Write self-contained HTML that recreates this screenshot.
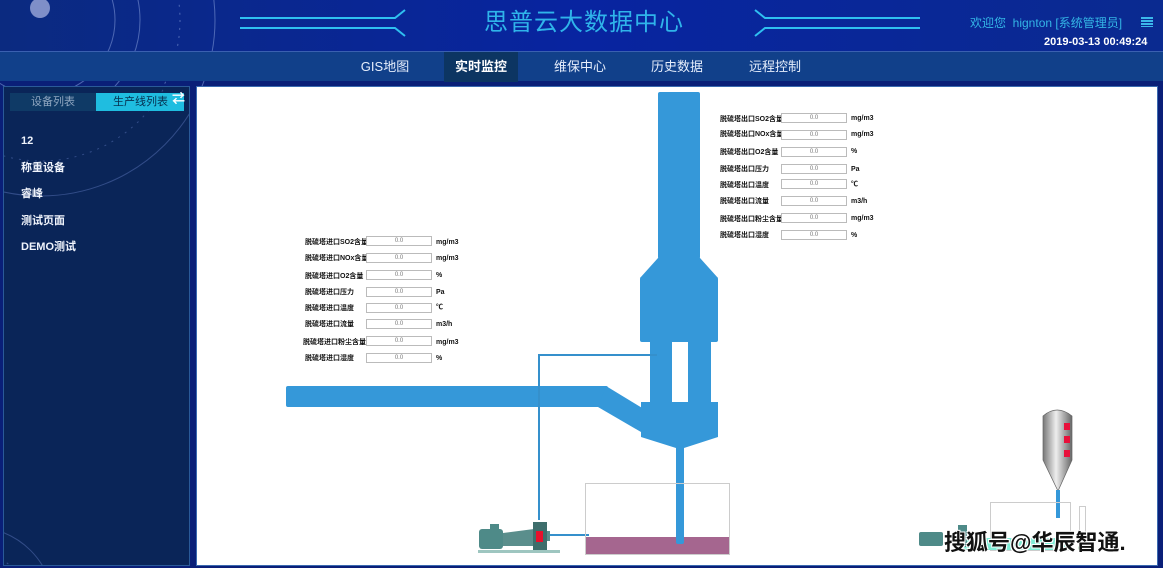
<!DOCTYPE html>
<html style="width:1163px;height:568px;overflow:hidden"><head><meta charset="utf-8"><style>
*{margin:0;padding:0;box-sizing:border-box}
body{width:1163px;height:568px;overflow:hidden;background:#0a1f78;font-family:"Liberation Sans","Noto Sans CJK SC",sans-serif;position:relative}
.abs{position:absolute;display:block}
.nav span{position:absolute;top:0;height:30px;line-height:30px;color:#e6eefc;font-size:13px;text-align:center}
.f{position:absolute;font-size:7px;line-height:9px;color:#111;white-space:nowrap;font-weight:bold}
.in{position:absolute;width:66px;height:10px;border:1px solid #bbb;font-size:6px;color:#777;text-align:center;line-height:8px;background:#fff}
</style></head><body>
<div class="abs" style="left:0;top:0;width:1163px;height:52px;background:linear-gradient(90deg,#0b2a80,#0824a0 50%,#0a2a90)"></div>
<svg class="abs" style="left:0;top:0" width="1163" height="86">
<g stroke="#6a84c8" fill="none" opacity=".7">
<circle cx="40" cy="20" r="75"/><circle cx="40" cy="20" r="100"/><circle cx="40" cy="20" r="140" stroke-dasharray="2 6"/><circle cx="40" cy="20" r="175"/>
</g>
<circle cx="40" cy="8" r="10" fill="#7f8fc8"/>
<g stroke="#2fc0f0" stroke-width="2" fill="none">
<path d="M240 18 H395 L405 10 M240 28 H395 L405 36"/>
<path d="M920 18 H765 L755 10 M920 28 H765 L755 36"/>
</g>
</svg>
<div class="abs" style="left:484px;top:8px;font-size:24px;line-height:30px;color:#2fb4ea;letter-spacing:1px">思普云大数据中心</div>
<div class="abs" style="left:970px;top:16px;font-size:12px;line-height:15px;color:#34b6e6">欢迎您&nbsp; hignton [系统管理员]</div>
<div class="abs" style="left:1141px;top:17px;width:12px;height:10px;background:repeating-linear-gradient(#3bb7ea 0 2px,transparent 2px 3px)"></div>
<div class="abs" style="left:1044px;top:36px;font-size:11px;line-height:13px;font-weight:bold;color:#fff">2019-03-13 00:49:24</div>
<div class="abs nav" style="left:0;top:51px;width:1163px;height:30px;background:#11408a;border-top:1px solid #3a60b0">
<span style="left:352px;width:66px">GIS地图</span>
<span style="left:444px;width:74px;background:#0c3562;font-weight:bold;color:#fff">实时监控</span>
<span style="left:545px;width:70px">维保中心</span>
<span style="left:642px;width:70px">历史数据</span>
<span style="left:740px;width:70px">远程控制</span>
</div>
<div class="abs" style="left:3px;top:86px;width:187px;height:480px;background:#0a2558;border:1px solid #2a5a98;overflow:hidden">
<svg style="position:absolute;left:0;top:0" width="185" height="478"><g stroke="#5a74b8" fill="none" opacity=".5"><circle cx="37" cy="-66" r="140" stroke-dasharray="2 6"/><circle cx="37" cy="-66" r="175"/><circle cx="-30" cy="520" r="80"/><circle cx="-30" cy="520" r="55" stroke-dasharray="2 5"/></g></svg>
</div>
<div class="abs" style="left:10px;top:93px;width:86px;height:18px;background:#0f3a66;color:#8fa6c0;font-size:11px;text-align:center;line-height:18px">设备列表</div>
<div class="abs" style="left:96px;top:93px;width:88px;height:18px;background:#1fbde0;color:#063050;font-size:11px;line-height:18px;padding-left:17px">生产线列表</div>
<div class="abs" style="left:172px;top:91px;color:#fff;font-size:13px;line-height:15px;font-weight:bold">⇄</div>
<div class="abs" style="left:21px;top:128px;color:#f0f4fc;font-size:11px;line-height:26.5px;font-weight:bold">12<br>称重设备<br>睿峰<br>测试页面<br>DEMO测试</div>
<div class="abs" style="left:196px;top:86px;width:962px;height:480px;background:#fff;border:1px solid #3a6ab0"></div>
<svg class="abs" style="left:0;top:0" width="1163" height="568">
<g fill="#3598d9">
<rect x="658" y="92" width="42" height="167" rx="2"/>
<polygon points="658,258 700,258 718,278 640,278"/>
<rect x="640" y="277" width="78" height="65" rx="2"/>
<rect x="650" y="342" width="22" height="62"/>
<rect x="688" y="342" width="23" height="62"/>
<rect x="286" y="386" width="322" height="21" rx="2"/>
<polygon points="606,386 652,414 641,432 598,407"/>
<polygon points="641,402 718,402 718,437 684,448 676,448 641,437"/>
<rect x="676" y="446" width="8" height="98" rx="2"/>
</g>
<path d="M657 355 H539 V520" stroke="#3590cc" stroke-width="2" fill="none"/>
<path d="M545 535 H589" stroke="#3590cc" stroke-width="2"/>
<rect x="585.5" y="483.5" width="144" height="71" fill="none" stroke="#ccc"/>
<rect x="586" y="537" width="143" height="17" fill="#a5668f"/>
<rect x="676" y="520" width="8" height="24" rx="2" fill="#3598d9"/>
<rect x="478" y="550" width="82" height="3" fill="#9ec6c0"/>
<rect x="479" y="529" width="24" height="20" rx="3" fill="#4e8a88"/>
<rect x="490" y="524" width="9" height="6" fill="#4e8a88"/>
<polygon points="503,533 534,529 534,546 503,546" fill="#5a8e8c"/>
<rect x="533" y="522" width="14" height="28" fill="#3e6e6c"/>
<rect x="536" y="531" width="7" height="11" fill="#e8102c"/>
<rect x="547" y="531" width="3" height="10" fill="#5a8e8c"/>
<defs><linearGradient id="sg" x1="0" x2="1"><stop offset="0" stop-color="#777"/><stop offset=".45" stop-color="#eee"/><stop offset="1" stop-color="#666"/></linearGradient></defs>
<path d="M1043 416 Q1057 404 1072 416 V460 L1058 491 L1043 460 Z" fill="url(#sg)" stroke="#666" stroke-width=".7"/>
<rect x="1064" y="423" width="6" height="7" fill="#e8103a"/><rect x="1064" y="436" width="6" height="7" fill="#e8103a"/><rect x="1064" y="450" width="6" height="7" fill="#e8103a"/>
<rect x="1056" y="490" width="4" height="28" fill="#3598d9"/>
<rect x="990.5" y="502.5" width="80" height="48" fill="none" stroke="#ccc"/>
<rect x="1079.5" y="506.5" width="6" height="30" fill="none" stroke="#ccc"/>
<rect x="960" y="538" width="110" height="12" fill="#7eecd6"/>
<rect x="919" y="532" width="24" height="14" rx="2" fill="#4e8a88"/>
<rect x="958" y="525" width="9" height="22" fill="#4e8a88"/>
<circle cx="1082" cy="548" r="4" fill="#1a8a2a"/>
</svg>
<div class="abs" style="left:944px;top:530px;font-size:22px;line-height:26px;color:#111;font-weight:bold;text-shadow:1px 1px 0 #fff,-1px -1px 0 #fff,1px -1px 0 #fff,-1px 1px 0 #fff">搜狐号@华辰智通.</div>

<div class="f" style="left:305px;top:238px">脱硫塔进口SO2含量</div><div class="in" style="left:366px;top:236px">0.0</div><div class="f" style="left:436px;top:238px">mg/m3</div>
<div class="f" style="left:305px;top:254px">脱硫塔进口NOx含量</div><div class="in" style="left:366px;top:253px">0.0</div><div class="f" style="left:436px;top:254px">mg/m3</div>
<div class="f" style="left:305px;top:272px">脱硫塔进口O2含量</div><div class="in" style="left:366px;top:270px">0.0</div><div class="f" style="left:436px;top:271px">%</div>
<div class="f" style="left:305px;top:288px">脱硫塔进口压力</div><div class="in" style="left:366px;top:287px">0.0</div><div class="f" style="left:436px;top:288px">Pa</div>
<div class="f" style="left:305px;top:304px">脱硫塔进口温度</div><div class="in" style="left:366px;top:303px">0.0</div><div class="f" style="left:436px;top:303px">℃</div>
<div class="f" style="left:305px;top:320px">脱硫塔进口流量</div><div class="in" style="left:366px;top:319px">0.0</div><div class="f" style="left:436px;top:320px">m3/h</div>
<div class="f" style="left:303px;top:338px">脱硫塔进口粉尘含量</div><div class="in" style="left:366px;top:336px">0.0</div><div class="f" style="left:436px;top:338px">mg/m3</div>
<div class="f" style="left:305px;top:354px">脱硫塔进口湿度</div><div class="in" style="left:366px;top:353px">0.0</div><div class="f" style="left:436px;top:354px">%</div>

<div class="f" style="left:720px;top:115px">脱硫塔出口SO2含量</div><div class="in" style="left:781px;top:113px">0.0</div><div class="f" style="left:851px;top:114px">mg/m3</div>
<div class="f" style="left:720px;top:130px">脱硫塔出口NOx含量</div><div class="in" style="left:781px;top:130px">0.0</div><div class="f" style="left:851px;top:130px">mg/m3</div>
<div class="f" style="left:720px;top:148px">脱硫塔出口O2含量</div><div class="in" style="left:781px;top:147px">0.0</div><div class="f" style="left:851px;top:147px">%</div>
<div class="f" style="left:720px;top:165px">脱硫塔出口压力</div><div class="in" style="left:781px;top:164px">0.0</div><div class="f" style="left:851px;top:165px">Pa</div>
<div class="f" style="left:720px;top:181px">脱硫塔出口温度</div><div class="in" style="left:781px;top:179px">0.0</div><div class="f" style="left:851px;top:180px">℃</div>
<div class="f" style="left:720px;top:197px">脱硫塔出口流量</div><div class="in" style="left:781px;top:196px">0.0</div><div class="f" style="left:851px;top:197px">m3/h</div>
<div class="f" style="left:720px;top:215px">脱硫塔出口粉尘含量</div><div class="in" style="left:781px;top:213px">0.0</div><div class="f" style="left:851px;top:214px">mg/m3</div>
<div class="f" style="left:720px;top:231px">脱硫塔出口湿度</div><div class="in" style="left:781px;top:230px">0.0</div><div class="f" style="left:851px;top:231px">%</div>
</body></html>
